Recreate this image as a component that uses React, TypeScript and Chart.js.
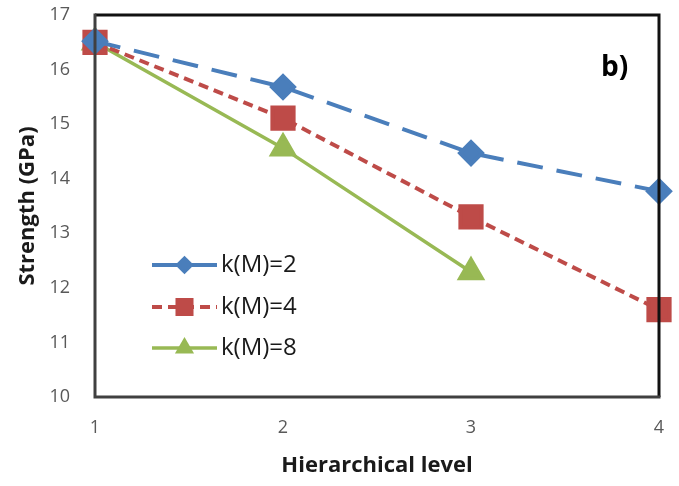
import React, { useEffect, useRef } from "react";
import { Chart, registerables } from "chart.js";

Chart.register(...registerables);

const levels = [1, 2, 3, 4];
const seriesNames = ["k(M)=2", "k(M)=4", "k(M)=8"];
const strengthK2 = [16.52, 15.68, 14.47, 13.77];
const strengthK4 = [16.5, 15.11, 13.3, 11.6];
const strengthK8 = [16.5, 14.56, 12.29];
const yTicks = [10, 11, 12, 13, 14, 15, 16, 17];
const xTicks = [1, 2, 3, 4];
const panelLabel = "b)";

const FONT = "'Open Sans', 'DejaVu Sans', sans-serif";

const toPoints = (vals: number[]) => vals.map((v, i) => ({ x: levels[i], y: v }));

const framePlugin = {
  id: "frame",
  afterDraw(chart: any) {
    const { ctx, chartArea } = chart;
    const { left, right, top, bottom } = chartArea;
    ctx.save();
    ctx.lineWidth = 3;
    ctx.strokeStyle = "#111111";
    ctx.beginPath();
    ctx.moveTo(left, top);
    ctx.lineTo(right, top);
    ctx.lineTo(right, bottom);
    ctx.stroke();
    ctx.strokeStyle = "#404040";
    ctx.beginPath();
    ctx.moveTo(left, top - 1.5);
    ctx.lineTo(left, bottom);
    ctx.lineTo(right + 1.5, bottom);
    ctx.stroke();
    ctx.fillStyle = "#000000";
    ctx.font = `bold 28px ${FONT}`;
    ctx.textAlign = "left";
    ctx.textBaseline = "middle";
    ctx.fillText(panelLabel, left + 506, top + 53);
    ctx.restore();
  },
};

const legendPlugin = {
  id: "insideLegend",
  afterDatasetsDraw(chart: any) {
    const { ctx, chartArea } = chart;
    const x0 = chartArea.left + 57;
    const x1 = chartArea.left + 122;
    const rows = [chartArea.top + 250, chartArea.top + 292, chartArea.top + 333];
    chart.data.datasets.forEach((ds: any, i: number) => {
      const y = rows[i];
      ctx.save();
      ctx.strokeStyle = ds.borderColor;
      ctx.lineWidth = ds.borderWidth;
      ctx.setLineDash(ds.borderDash || []);
      ctx.beginPath();
      ctx.moveTo(x0, y);
      ctx.lineTo(x1, y);
      ctx.stroke();
      ctx.setLineDash([]);
      ctx.fillStyle = ds.pointBackgroundColor;
      const xm = (x0 + x1) / 2;
      const r = ds.pointRadius * 0.85;
      ctx.beginPath();
      if (ds.pointStyle === "rectRot") {
        ctx.moveTo(xm, y - r);
        ctx.lineTo(xm + r, y);
        ctx.lineTo(xm, y + r);
        ctx.lineTo(xm - r, y);
      } else if (ds.pointStyle === "rect") {
        const s = r * Math.SQRT1_2;
        ctx.rect(xm - s, y - s, 2 * s, 2 * s);
      } else {
        ctx.moveTo(xm, y - r);
        ctx.lineTo(xm + r * 0.866, y + r * 0.5);
        ctx.lineTo(xm - r * 0.866, y + r * 0.5);
      }
      ctx.closePath();
      ctx.fill();
      ctx.fillStyle = "#1a1a1a";
      ctx.font = `24px ${FONT}`;
      ctx.textAlign = "left";
      ctx.textBaseline = "middle";
      ctx.fillText(ds.label, x1 + 4, y);
      ctx.restore();
    });
  },
};

export default function App() {
  const ref = useRef<HTMLCanvasElement>(null);
  useEffect(() => {
    document.body.style.margin = "0";
    if (!ref.current) return;
    const chart = new Chart(ref.current, {
      type: "line",
      data: {
        datasets: [
          {
            label: seriesNames[0],
            data: toPoints(strengthK2),
            borderColor: "#4A7EBB",
            backgroundColor: "#4A7EBB",
            pointBackgroundColor: "#4A7EBB",
            pointBorderColor: "#4A7EBB",
            borderWidth: 4,
            borderDash: [26, 14],
            pointStyle: "rectRot",
            pointRadius: 11,
            tension: 0,
            clip: false,
          },
          {
            label: seriesNames[1],
            data: toPoints(strengthK4),
            borderColor: "#BE4B48",
            backgroundColor: "#BE4B48",
            pointBackgroundColor: "#BE4B48",
            pointBorderColor: "#BE4B48",
            borderWidth: 4,
            borderDash: [10, 6],
            pointStyle: "rect",
            pointRadius: 15,
            tension: 0,
            clip: false,
          },
          {
            label: seriesNames[2],
            data: toPoints(strengthK8),
            borderColor: "#98B954",
            backgroundColor: "#98B954",
            pointBackgroundColor: "#98B954",
            pointBorderColor: "#98B954",
            borderWidth: 3.5,
            pointStyle: "triangle",
            pointRadius: 13,
            tension: 0,
            clip: false,
          },
        ],
      },
      options: {
        responsive: false,
        animation: false,
        layout: { autoPadding: false, padding: { top: 15, right: 20, left: 0, bottom: 0 } },
        plugins: { legend: { display: false }, tooltip: { enabled: false } },
        scales: {
          x: {
            type: "linear",
            min: 1,
            max: 4,
            afterBuildTicks: (scale: any) => {
              scale.ticks = xTicks.map((v) => ({ value: v }));
            },
            afterFit: (scale: any) => {
              scale.height = 89;
              scale.paddingLeft = 0;
              scale.paddingRight = 0;
            },
            grid: { display: false, drawTicks: false },
            border: { display: false },
            ticks: { font: { family: FONT, size: 18 }, color: "#595959", padding: 20 },
            title: {
              display: true,
              text: "Hierarchical level",
              font: { family: FONT, size: 22, weight: "bold" },
              color: "#1a1a1a",
              padding: { top: 0, bottom: 7 },
            },
          },
          y: {
            min: 10,
            max: 17,
            afterBuildTicks: (scale: any) => {
              scale.ticks = yTicks.map((v) => ({ value: v }));
            },
            afterFit: (scale: any) => {
              scale.width = 95;
              scale.paddingTop = 0;
              scale.paddingBottom = 0;
            },
            grid: { display: false, drawTicks: false },
            border: { display: false },
            ticks: { font: { family: FONT, size: 18 }, color: "#595959", padding: 25 },
            title: {
              display: true,
              text: "Strength (GPa)",
              font: { family: FONT, size: 22, weight: "bold" },
              color: "#1a1a1a",
              padding: { top: 15, bottom: 0 },
            },
          },
        },
      },
      plugins: [framePlugin, legendPlugin],
    } as any);
    return () => chart.destroy();
  }, []);
  return (
    <div style={{ position: "absolute", left: 0, top: 0, width: 679, height: 486, background: "#fff" }}>
      <canvas ref={ref} width={679} height={486} />
    </div>
  );
}
